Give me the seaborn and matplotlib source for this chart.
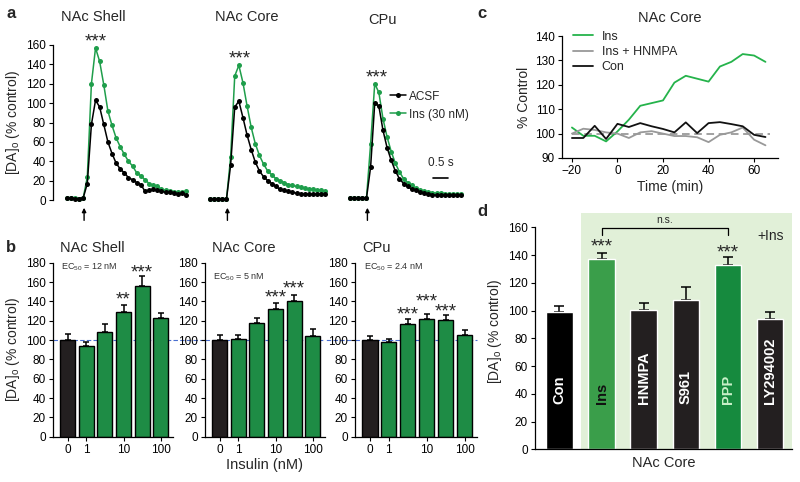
import numpy as np
import pandas as pd
import matplotlib
matplotlib.use('Agg')
import matplotlib.pyplot as plt
from matplotlib.lines import Line2D
import seaborn as sns

# ---------------- data ----------------
# Panel a: evoked [DA]o traces (% control), one sample every SAMPLE_DT s
SAMPLE_DT = 0.135
STIM_T = 0.57
shell_acsf = [2, 2, 1.5, 1.5, 2, 17, 78, 103, 96, 78, 60, 48, 38, 32, 28, 23, 21, 18, 16, 9,
              10, 11, 10, 9, 8, 8, 7, 6, 7, 5]
shell_ins = [2.5, 2, 2, 1.5, 2, 23.5, 120, 157, 143, 119, 92, 77, 64, 55, 47, 40, 35, 28, 25, 21,
             17, 15, 14, 11, 10, 9, 8, 8, 8, 9]
core_acsf = [1, 1, 1, 1, 1, 36, 96, 102, 85, 67, 52, 39, 30, 24, 20, 17, 14, 11, 10, 9, 8, 7,
             6.5, 6, 6, 6, 6, 6, 6]
core_ins = [1, 1, 1, 1, 1, 44, 128, 139, 121, 97, 75, 58, 46, 37, 30, 26, 22, 20, 18, 16, 15, 14,
            13, 12, 11, 11, 10, 10, 9]
cpu_acsf = [2, 2, 2, 2, 2, 34, 100, 97, 72, 54, 41, 30, 22, 17, 14, 11, 10, 8, 7, 6, 5.5, 5, 5,
            5, 5, 5, 5, 5]
cpu_ins = [2, 2, 2, 2, 2, 58, 120, 111, 84, 65, 50, 38, 29, 22, 18, 15, 12, 10, 9, 8, 7.5, 7, 7,
           6.5, 6, 6, 6, 6]

# Panel b: concentration-response (% control)
conc_labels = ['0', '1', '3', '10', '30', '100']
conc_ticklabels = ['0', '1', '10', '100']
shell_vals = [100, 93.8, 108.6, 129, 156, 122.4]
shell_err = [5.9, 4, 7.5, 7.5, 10, 6]
core_vals = [100, 100.7, 117.5, 132, 140.3, 104.5]
core_err = [5, 5, 5, 6, 6, 6.5]
cpu_vals = [100, 97.6, 117, 121.7, 120.3, 105]
cpu_err = [4.5, 3, 4.5, 5, 5.5, 5]

# Panel c: time course (% control)
time_min = [-20, -15, -10, -5, 0, 5, 10, 15, 20, 25, 30, 35, 40, 45, 50, 55, 60, 65]
c_ins = [102.5, 99.1, 99.1, 96.8, 100.9, 105.7, 111.4, 112.5, 113.6, 120.9, 123.7, 122.5,
         121.3, 127.5, 129.4, 132.6, 132.0, 129.4]
c_hnmpa = [100, 102, 101.5, 100.5, 100, 98.2, 100.5, 101, 100, 99, 99, 98.5, 96.5, 99.5,
           100.5, 102.5, 97.5, 95.2]
c_con = [98.2, 98.2, 103.2, 97.8, 104, 102.7, 104.3, 103, 101.9, 100.5, 104.6, 100.2, 104.3,
         104.7, 103.9, 103, 99.5, 98.6]

# Panel d: inhibitors (% control)
d_labels = ['Con', 'Ins', 'HNMPA', 'S961', 'PPP', 'LY294002']
d_vals = [99.2, 137, 100.4, 107.6, 132.9, 93.7]
d_err = [4.1, 4.7, 4.8, 9.6, 6.0, 5.5]

# ---------------- style ----------------
GREEN = '#1f9e4b'
BAR_GREEN = '#1e8c45'
DARK = '#231f20'
STAR_FS = 13.5
sns.set_style('ticks')
plt.rcParams['font.family'] = ['Liberation Sans', 'DejaVu Sans']
plt.rcParams['mathtext.fontset'] = 'custom'
plt.rcParams['mathtext.rm'] = 'Liberation Sans'
plt.rcParams['mathtext.it'] = 'Liberation Sans:italic'
plt.rcParams['mathtext.bf'] = 'Liberation Sans:bold'
for k in ['xtick', 'ytick']:
    plt.rcParams[f'{k}.major.size'] = 3
    plt.rcParams[f'{k}.major.width'] = 0.8
    plt.rcParams[f'{k}.major.pad'] = 2
    plt.rcParams[f'{k}.color'] = 'black'
plt.rcParams['axes.linewidth'] = 0.9
plt.rcParams['axes.edgecolor'] = 'black'

fig = plt.figure(figsize=(8, 4.82), dpi=100)
YLAB = '[DA]$_\\mathrm{o}$ (% control)'

# ---------------- panel a ----------------
a_bottom, a_height = 0.577, 0.3377
a_lefts = [0.06625, 0.2454, 0.4204]
traces = [(shell_acsf, shell_ins), (core_acsf, core_ins), (cpu_acsf, cpu_ins)]
a_titles = [('NAc Shell', 0.88, 189), ('NAc Core', 1.21, 189), ('CPu', 1.08, 186)]
a_stars = [(0.96, 163), (0.98, 146), (0.885, 126)]
a_axes = []
for i, ((acsf, ins), left) in enumerate(zip(traces, a_lefts)):
    ax = fig.add_axes([left, a_bottom, 0.1773, a_height])
    n = len(acsf)
    t = np.arange(n) * SAMPLE_DT
    df = pd.DataFrame({'t': np.concatenate([t, t]), 'v': list(ins) + list(acsf),
                       'cond': ['Ins (30 nM)'] * n + ['ACSF'] * n})
    sns.lineplot(data=df, x='t', y='v', hue='cond', hue_order=['Ins (30 nM)', 'ACSF'],
                 palette={'Ins (30 nM)': GREEN, 'ACSF': 'black'}, marker='o', markersize=3.6,
                 markeredgewidth=0, linewidth=1.1, errorbar=None, legend=False, ax=ax)
    ax.set_xlim(-0.449, 4.2)
    ax.set_ylim(-4, 164)
    ax.set_xlabel('')
    ax.set_ylabel('')
    for s in ['top', 'right', 'bottom']:
        ax.spines[s].set_visible(False)
    ax.set_xticks([])
    if i == 0:
        ax.spines['left'].set_bounds(0, 160)
        ax.set_yticks(np.arange(0, 161, 20))
        ax.tick_params(axis='y', labelsize=8.5)
        ax.set_ylabel(YLAB, fontsize=10, labelpad=3)
    else:
        ax.spines['left'].set_visible(False)
        ax.set_yticks([])
    ttl, tx, ty = a_titles[i]
    ax.text(tx, ty, ttl, ha='center', va='center', fontsize=10.5)
    sx, sy = a_stars[i]
    ax.text(sx, sy, '***', ha='center', va='center', fontsize=STAR_FS)
    ax.annotate('', xy=(STIM_T, -8), xytext=(STIM_T, -21),
                arrowprops=dict(arrowstyle='-|>', color='black', lw=1.0, mutation_scale=6,
                                shrinkA=0, shrinkB=0),
                annotation_clip=False)
    a_axes.append(ax)

axc = a_axes[2]
axc.plot([2.72, 3.22], [22.7, 22.7], color='black', lw=1.2)
axc.text(2.97, 38, '0.5 s', ha='center', va='center', fontsize=8.5)
handles = [Line2D([], [], color='black', marker='o', ms=3.6, mew=0, lw=1.1),
           Line2D([], [], color=GREEN, marker='o', ms=3.6, mew=0, lw=1.1)]
fig.legend(handles, ['ACSF', 'Ins (30 nM)'], loc='upper left', bbox_to_anchor=(0.488, 0.812),
           frameon=False, fontsize=8.5, handlelength=1.3, handletextpad=0.3, labelspacing=0.5,
           borderpad=0, borderaxespad=0)

# ---------------- panel b ----------------
b_bottom, b_height = 0.094, 0.361
b_specs = [
    (0.06625, 0.15, shell_vals, shell_err, 'NAc Shell', 'EC$_{50}$ = 12 nM', 175.5,
     [(3, 141.5, '**'), (4, 169.5, '***')]),
    (0.25625, 0.15, core_vals, core_err, 'NAc Core', 'EC$_{50}$ = 5 nM', 165,
     [(3, 143.6, '***'), (4, 153, '***')]),
    (0.44375, 0.1525, cpu_vals, cpu_err, 'CPu', 'EC$_{50}$ = 2.4 nM', 175.5,
     [(2, 126, '***'), (3, 139, '***'), (4, 129.5, '***')]),
]
for j, (left, width, vals, err, ttl, ec, ecy, stars) in enumerate(b_specs):
    ax = fig.add_axes([left, b_bottom, width, b_height])
    if j == 0:
        # reference line at 100 % runs across all three panels
        ax.axhline(100, xmin=0, xmax=3.53, color='#4a6fd0', ls=(0, (4, 2)), lw=0.8,
                   zorder=0, clip_on=False)
    else:
        ax.axhline(100, color='#4a6fd0', ls=(0, (4, 2)), lw=0.8, zorder=0)
    df = pd.DataFrame({'conc': conc_labels, 'val': vals})
    pal = {c: (DARK if c == '0' else BAR_GREEN) for c in conc_labels}
    sns.barplot(data=df, x='conc', y='val', hue='conc', order=conc_labels, hue_order=conc_labels,
                palette=pal, legend=False, width=0.8, edgecolor='black', linewidth=1.0,
                saturation=1, errorbar=None, ax=ax, zorder=2)
    ax.errorbar(np.arange(len(vals)), vals, yerr=[np.zeros(len(vals)), err], fmt='none',
                ecolor='black', elinewidth=1.1, capsize=2.5, capthick=1.1, zorder=1)
    ax.set_xlim(-0.79, 5.66)
    ax.set_ylim(0, 180)
    ax.set_yticks(np.arange(0, 181, 20))
    ax.set_xticks([0, 1, 3, 5])
    ax.set_xticklabels(conc_ticklabels)
    ax.tick_params(labelsize=8.5)
    sns.despine(ax=ax)
    ax.set_xlabel('')
    ax.set_ylabel('')
    if j == 0:
        ax.set_ylabel(YLAB, fontsize=10, labelpad=3)
    if j == 1:
        ax.set_xlabel('Insulin (nM)', fontsize=10.5, labelpad=2)
    ax.text(0.058, 195, ttl, transform=ax.get_yaxis_transform(), ha='left', va='center',
            fontsize=10.5)
    ax.text(0.07, ecy, ec, transform=ax.get_yaxis_transform(), ha='left', va='center',
            fontsize=6.5, color='#333333')
    for (bx, by, st) in stars:
        ax.text(bx, by, st, ha='center', va='center', fontsize=STAR_FS)

# ---------------- panel c ----------------
ax = fig.add_axes([0.7021, 0.6722, 0.2704, 0.2531])
ax.plot([-20, 67], [100, 100], color='#888888', ls=(0, (5, 3)), lw=1.1, zorder=1)
dfc = pd.DataFrame({'t': time_min * 3, 'v': c_ins + c_hnmpa + c_con,
                    'g': ['Ins'] * len(time_min) + ['Ins + HNMPA'] * len(time_min)
                         + ['Con'] * len(time_min)})
sns.lineplot(data=dfc, x='t', y='v', hue='g', hue_order=['Ins', 'Ins + HNMPA', 'Con'],
             palette={'Ins': '#25b34b', 'Ins + HNMPA': '#999999', 'Con': '#111111'},
             linewidth=1.3, errorbar=None, ax=ax, zorder=2)
ax.set_xlim(-24.5, 70.5)
ax.set_ylim(90, 140)
ax.set_xticks([-20, 0, 20, 40, 60])
ax.set_yticks(np.arange(90, 141, 10))
ax.tick_params(labelsize=8.5)
sns.despine(ax=ax)
ax.set_xlabel('Time (min)', fontsize=10, labelpad=2)
ax.set_ylabel('% Control', fontsize=10, labelpad=3)
ax.set_title('NAc Core', fontsize=10.5, pad=10)
ax.legend(loc='upper left', bbox_to_anchor=(0.716, 0.936), bbox_transform=fig.transFigure,
          frameon=False, fontsize=9, handlelength=1.6, handletextpad=0.7, labelspacing=0.25,
          borderpad=0, borderaxespad=0)

# ---------------- panel d ----------------
ax = fig.add_axes([0.66875, 0.0678, 0.3209, 0.4894])
ax.axvspan(0.508, 5.6, color='#e1f0d8', zorder=0, lw=0)
d_colors = ['#000000', '#3a9e4a', DARK, DARK, '#168a3e', DARK]
d_text_colors = ['white', '#111111', 'white', 'white', '#c8f0c8', 'white']
dfd = pd.DataFrame({'cond': d_labels, 'val': d_vals})
sns.barplot(data=dfd, x='cond', y='val', hue='cond', order=d_labels, hue_order=d_labels,
            palette=dict(zip(d_labels, d_colors)), legend=False, width=0.63, saturation=1,
            errorbar=None, ax=ax, zorder=2)
ax.errorbar(np.arange(len(d_vals)), d_vals, yerr=[np.zeros(len(d_vals)), d_err], fmt='none',
            ecolor='black', elinewidth=1.1, capsize=3.5, capthick=1.1, zorder=1)
for k, (lab, tc) in enumerate(zip(d_labels, d_text_colors)):
    ax.text(k, 33, lab, rotation=90, ha='center', va='bottom', fontsize=10.5,
            fontweight='bold', color=tc, zorder=3)
ax.set_xlim(-0.58, 5.51)
ax.set_ylim(0, 170)
ax.set_yticks(np.arange(0, 161, 20))
ax.set_xticks([])
ax.tick_params(labelsize=8.5)
sns.despine(ax=ax)
ax.spines['left'].set_bounds(0, 160)
ax.set_xlabel('NAc Core', fontsize=10.5, labelpad=5)
ax.set_ylabel(YLAB, fontsize=10, labelpad=3)
ax.text(1, 145.5, '***', ha='center', va='center', fontsize=STAR_FS)
ax.text(4, 141.8, '***', ha='center', va='center', fontsize=STAR_FS)
ax.plot([1, 1, 4, 4], [154.5, 159.6, 159.6, 154.5], color='black', lw=0.9)
ax.text(2.5, 165.2, 'n.s.', ha='center', va='center', fontsize=7.5)
ax.text(5.02, 153.7, '+Ins', ha='center', va='center', fontsize=10)

# ---------------- panel labels ----------------
for lab, x, y in [('a', 11, 13), ('b', 11, 248), ('c', 482, 14), ('d', 482, 212)]:
    fig.text(x / 800, 1 - y / 482, lab, ha='center', va='center', fontsize=12,
             fontweight='bold')

fig.savefig('out.png', dpi=100)
